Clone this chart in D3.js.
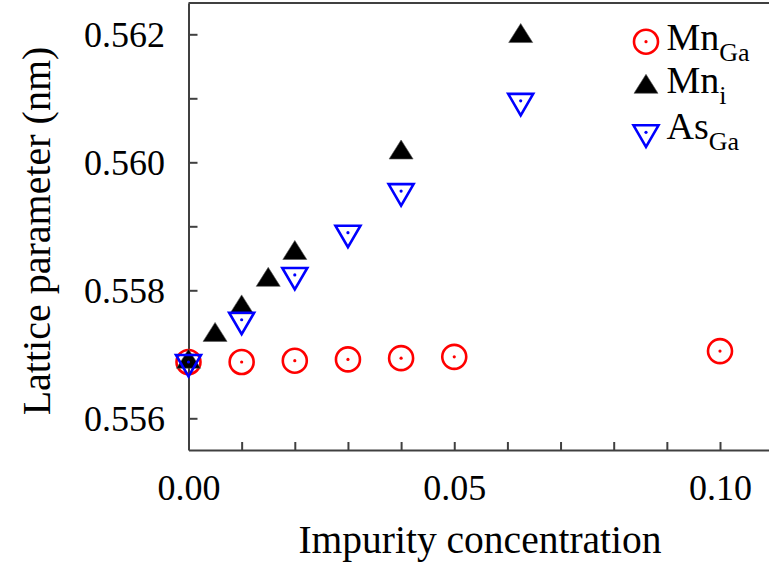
<!DOCTYPE html>
<html>
<head>
<meta charset="utf-8">
<script src="https://cdn.jsdelivr.net/npm/d3@7"></script>
<style>
  body { margin: 0; background: #fff; }
  svg text { font-family: "Liberation Serif", "Times New Roman", serif; fill: #000; }
</style>
</head>
<body>
<script>
var w = 769;
var h = 569;

// data
var concMnGa = [0, 0.01, 0.02, 0.03, 0.04, 0.05, 0.10];
var latMnGa = [0.55688, 0.55688, 0.5569, 0.55692, 0.55694, 0.55696, 0.55705];

var concMni = [0, 0.005, 0.01, 0.015, 0.02, 0.04, 0.0625];
var latMni = [0.55688, 0.5573, 0.55773, 0.55816, 0.55858, 0.56015, 0.56197];

var concAsGa = [0, 0.01, 0.02, 0.03, 0.04, 0.0625];
var latAsGa = [0.55688, 0.55754, 0.55824, 0.5589, 0.55955, 0.56096];

var xTicks = [0, 0.01, 0.02, 0.03, 0.04, 0.05, 0.06, 0.07, 0.08, 0.09, 0.1];
var xLabels = [0, 0.05, 0.1];
var yTicks = [0.556, 0.557, 0.558, 0.559, 0.56, 0.561, 0.562];
var yLabels = [0.556, 0.558, 0.56, 0.562];

var legendNames = [["Mn", "Ga"], ["Mn", "i"], ["As", "Ga"]];

// scales (axes run to the edge of the picture)
var padLeft = 188.5, padRight = 769, padTop = 3, padBottom = 450;
var xScale = d3.scaleLinear().domain([0, 0.1]).range([padLeft, 720]);
xScale.domain([0, xScale.invert(padRight)]).range([padLeft, padRight]);

var yScale = d3.scaleLinear().domain([0.556, 0.562]).range([418.3, 34.3]);
yScale.domain([yScale.invert(padBottom), yScale.invert(padTop)]).range([padBottom, padTop]);

var svg = d3.select("body").append("svg").attr("width", w).attr("height", h);

// axes
var fmt = function (d) {
  return xLabels.some(function (v) { return Math.abs(v - d) < 1e-9; }) ? d3.format(".2f")(d) : "";
};
var xAxis = d3.axisBottom(xScale).tickValues(xTicks).tickSizeInner(-8).tickSizeOuter(0).tickFormat(fmt);
var yFmt = function (d) {
  return yLabels.some(function (v) { return Math.abs(v - d) < 1e-9; }) ? d3.format(".3f")(d) : "";
};
var yAxis = d3.axisLeft(yScale).tickValues(yTicks).tickSizeInner(-9).tickSizeOuter(0).tickFormat(yFmt);

var gx = svg.append("g").attr("transform", `translate(0,${padBottom})`).call(xAxis);
gx.selectAll("text").attr("y", 50).attr("dy", null).style("font-size", "36px").attr("font-family", null);

var gy = svg.append("g").attr("transform", `translate(${padLeft},0)`).call(yAxis);
gy.selectAll("text").attr("x", -23.5).attr("y", 12.5).attr("dy", null).style("font-size", "36px").attr("font-family", null);

svg.selectAll(".domain, .tick line").attr("stroke", "#404040").attr("stroke-width", 2);

// top frame line
svg.append("line")
  .attr("x1", padLeft).attr("x2", padRight)
  .attr("y1", padTop).attr("y2", padTop)
  .attr("stroke", "#404040").attr("stroke-width", 2);

// axis titles
svg.append("text")
  .attr("x", 480).attr("y", 553)
  .attr("text-anchor", "middle")
  .style("font-size", "39.5px")
  .text("Impurity concentration");

svg.append("text")
  .attr("transform", "translate(50,231) rotate(-90)")
  .attr("text-anchor", "middle")
  .style("font-size", "40px")
  .text("Lattice parameter (nm)");

// marker helpers
var upTri = "M0,-12.7L12,6.3L-12,6.3Z";
var downTri = "M-12.5,-7L12.5,-7L0,14.5Z";

function drawCircle(g) {
  g.append("circle").attr("r", 12).attr("fill", "none").attr("stroke", "#ff0000").attr("stroke-width", 2.6);
  g.append("circle").attr("r", 1.6).attr("fill", "#ff0000");
}
function drawUp(g) {
  g.append("path").attr("d", upTri).attr("fill", "#000").attr("stroke", "#555").attr("stroke-width", 0.6);
}
function drawDown(g) {
  g.append("path").attr("d", downTri).attr("fill", "none").attr("stroke", "#0000ff").attr("stroke-width", 2.6).attr("stroke-linejoin", "miter");
  g.append("circle").attr("r", 1.6).attr("fill", "#0000ff");
}

// points
svg.selectAll(".mnga")
  .data(d3.zip(concMnGa, latMnGa))
  .enter()
  .append("g")
  .attr("class", "mnga")
  .attr("transform", function (d) { return `translate(${xScale(d[0])},${yScale(d[1])})`; })
  .each(function () { drawCircle(d3.select(this)); });

svg.selectAll(".mni")
  .data(d3.zip(concMni, latMni))
  .enter()
  .append("g")
  .attr("class", "mni")
  .attr("transform", function (d) { return `translate(${xScale(d[0])},${yScale(d[1])})`; })
  .each(function () { drawUp(d3.select(this)); });

svg.selectAll(".asga")
  .data(d3.zip(concAsGa, latAsGa))
  .enter()
  .append("g")
  .attr("class", "asga")
  .attr("transform", function (d) { return `translate(${xScale(d[0])},${yScale(d[1])})`; })
  .each(function () { drawDown(d3.select(this)); });

// legend
var legendY = [41.7, 87, 132.3];
var legendText = [50, 93, 138.5];
var drawers = [drawCircle, drawUp, drawDown];
legendNames.forEach(function (name, i) {
  var g = svg.append("g").attr("transform", `translate(646,${legendY[i]})`);
  drawers[i](g);
  var t = svg.append("text").attr("x", 666.5).attr("y", legendText[i]).style("font-size", "38px");
  t.append("tspan").text(name[0]);
  t.append("tspan").attr("dy", 11).style("font-size", "26px").text(name[1]);
});
</script>
</body>
</html>
